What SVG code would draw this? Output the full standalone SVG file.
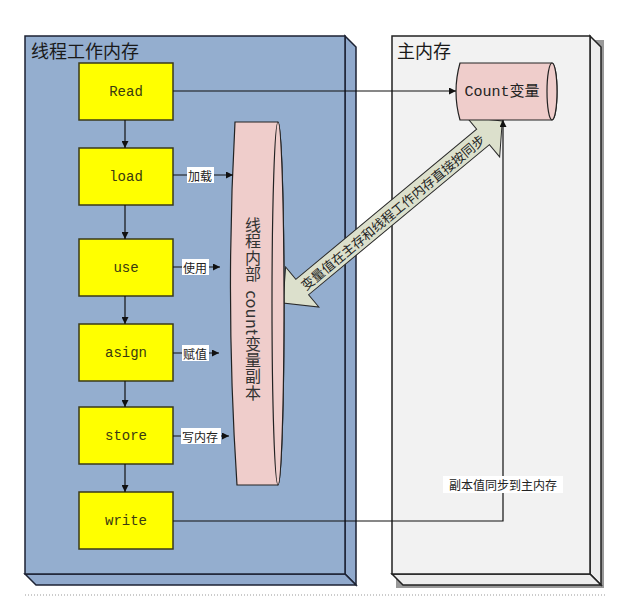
<svg xmlns="http://www.w3.org/2000/svg" width="628" height="616" viewBox="0 0 628 616">
<defs>
<style>
.cjk{font-family:"Noto Sans CJK SC","Noto Sans",sans-serif;}
.mono{font-family:"Liberation Mono","Noto Sans CJK SC",monospace;}
.box{fill:#FFFF00;stroke:#3a3a1a;stroke-width:1.5;}
.boxtxt{font-family:"Liberation Mono",monospace;font-size:14px;fill:#3a3a10;text-anchor:middle;dominant-baseline:central;}
.conn{fill:none;stroke:#111;stroke-width:1.2;}
.lbl{font-family:"Noto Sans CJK SC",sans-serif;font-size:12px;fill:#222;dominant-baseline:central;}
.lblbg{fill:#fff;}
.pink{fill:#EFCDCB;stroke:#222;stroke-width:1.2;}
</style>
<marker id="ah" viewBox="0 0 10 10" refX="10" refY="5" markerWidth="8" markerHeight="7" markerUnits="userSpaceOnUse" orient="auto">
<path d="M0,0 L10,5 L0,10 z" fill="#111"/>
</marker>
</defs>
<rect width="628" height="616" fill="#fff"/>

<g id="thread-memory">
<polygon points="345,36 356,47 356,585 345,574" fill="#90A9CC" stroke="#1c2233" stroke-width="1.5"/>
<polygon points="25,574 36,585 356,585 345,574" fill="#90A9CC" stroke="#1c2233" stroke-width="1.5"/>
<rect x="25" y="36" width="320" height="538" fill="#94AECF" stroke="#1c2233" stroke-width="1.5"/>
<text x="31" y="58" class="cjk" font-size="18" fill="#1a1a1a">线程工作内存</text>
</g>

<g id="main-memory">
<rect x="396" y="40" width="208" height="548" fill="#555" opacity="0.6"/>
<polygon points="590,36 601,47 601,585 590,574" fill="#EDEDED" stroke="#222" stroke-width="1.5"/>
<polygon points="392,574 403,585 601,585 590,574" fill="#EDEDED" stroke="#222" stroke-width="1.5"/>
<rect x="392" y="36" width="198" height="538" fill="#F2F2F2" stroke="#222" stroke-width="1.5"/>
<text x="397" y="58" class="cjk" font-size="18" fill="#1a1a1a">主内存</text>
</g>

<line x1="25" y1="595" x2="605" y2="595" stroke="#999" stroke-width="1" stroke-dasharray="1,2"/>

<g id="sync-arrow" transform="translate(283,303) rotate(-39.7)">
<polygon points="0,0 25,-26 25,-10 260,-10 260,-26 285,0 260,26 260,10 25,10 25,26" fill="#DCE0CC" stroke="#2a2a2a" stroke-width="1"/>
<text x="142.5" y="0" class="cjk" font-size="13" fill="#222" text-anchor="middle" dominant-baseline="central">变量值在主存和线程工作内存直接按同步</text>
</g>

<g id="count-var">
<path d="M460,63 L552,63 A5,28.5 0 0 1 552,120 L460,120 Q452,91.5 460,63 Z" class="pink"/>
<ellipse cx="552" cy="91.5" rx="5" ry="28.5" class="pink"/>
<text x="502" y="92" class="mono" font-size="15" fill="#222" text-anchor="middle" dominant-baseline="central">Count变量</text>
</g>

<g id="count-copy">
<path d="M235,122 L278,122 A6,181.5 0 0 1 278,485 L237,485 Q225,303 235,122 Z" class="pink"/>
<ellipse cx="278" cy="303.5" rx="6" ry="181.5" class="pink"/>
<text x="253" y="217" class="cjk" font-size="16" fill="#333" letter-spacing="0.4" style="writing-mode:vertical-rl;white-space:pre;">线程内部  count变量副本</text>
</g>

<g id="read"><rect x="79" y="63" width="94" height="57" class="box"/><text x="126" y="91.5" class="boxtxt">Read</text></g>
<g id="load"><rect x="79" y="148" width="94" height="57" class="box"/><text x="126" y="176.5" class="boxtxt">load</text></g>
<g id="use"><rect x="79" y="239" width="94" height="57" class="box"/><text x="126" y="267.5" class="boxtxt">use</text></g>
<g id="asign"><rect x="79" y="324" width="94" height="57" class="box"/><text x="126" y="352.5" class="boxtxt">asign</text></g>
<g id="store"><rect x="79" y="407" width="94" height="57" class="box"/><text x="126" y="435.5" class="boxtxt">store</text></g>
<g id="write"><rect x="79" y="492" width="94" height="57" class="box"/><text x="126" y="520.5" class="boxtxt">write</text></g>

<g id="connectors">
<line x1="125" y1="120" x2="125" y2="148" class="conn" marker-end="url(#ah)"/>
<line x1="125" y1="205" x2="125" y2="239" class="conn" marker-end="url(#ah)"/>
<line x1="125" y1="296" x2="125" y2="324" class="conn" marker-end="url(#ah)"/>
<line x1="125" y1="381" x2="125" y2="407" class="conn" marker-end="url(#ah)"/>
<line x1="125" y1="464" x2="125" y2="492" class="conn" marker-end="url(#ah)"/>
<line x1="173" y1="91" x2="456" y2="91" class="conn" marker-end="url(#ah)"/>
<polyline points="173,521 503,521 503,120" class="conn" marker-end="url(#ah)"/>
<line x1="173" y1="175" x2="233" y2="175" class="conn" marker-end="url(#ah)"/>
<line x1="173" y1="267" x2="220" y2="267" class="conn" marker-end="url(#ah)"/>
<line x1="173" y1="353" x2="219" y2="353" class="conn" marker-end="url(#ah)"/>
<line x1="173" y1="436" x2="229" y2="436" class="conn" marker-end="url(#ah)"/>
<rect x="187" y="167" width="27" height="16" class="lblbg"/>
<text x="188" y="175" class="lbl">加载</text>
<rect x="182" y="259" width="27" height="16" class="lblbg"/>
<text x="183" y="267" class="lbl">使用</text>
<rect x="182" y="345" width="27" height="16" class="lblbg"/>
<text x="183" y="353" class="lbl">赋值</text>
<rect x="181" y="428" width="40" height="16" class="lblbg"/>
<text x="182" y="436" class="lbl">写内存</text>
<rect x="443" y="476" width="120" height="17" class="lblbg"/>
<text x="503" y="484.5" class="lbl" font-size="13" text-anchor="middle">副本值同步到主内存</text>
</g>
</svg>
